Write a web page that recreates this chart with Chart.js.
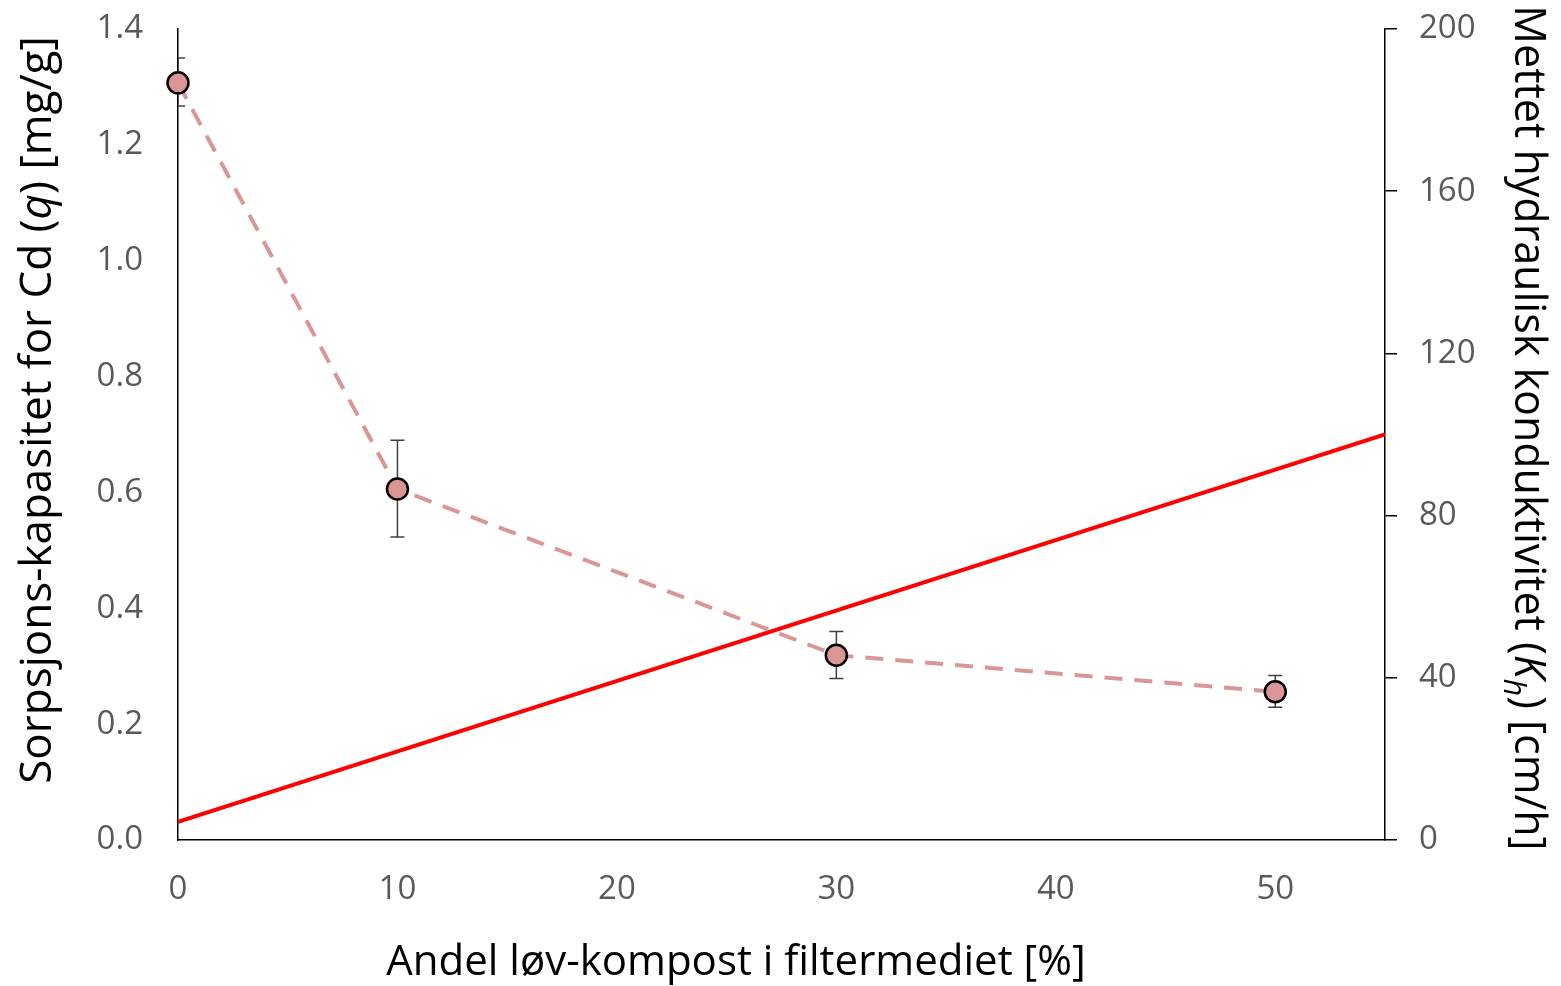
<!DOCTYPE html>
<html>
<head>
<meta charset="utf-8">
<script src="https://cdn.jsdelivr.net/npm/chart.js@4/dist/chart.umd.min.js"></script>
<style>
  body { margin: 0; background: #fff; }
  canvas { display: block; }
</style>
</head>
<body>
<canvas id="chart" width="1561" height="986"></canvas>
<script>
// Data
const andelKompost = [0, 10, 30, 50];
const sorpsjon = [1.307, 0.606, 0.319, 0.256];
const sorpsjonHoy = [1.35, 0.69, 0.36, 0.284];
const sorpsjonLav = [1.267, 0.523, 0.279, 0.229];
const trendX = [0, 55];
const konduktivitet = [4.5, 100];

const FONT = '"Open Sans", "DejaVu Sans", sans-serif';
const GRAY = '#595959';

// Feilstolper tegnes under punktene
const feilstolper = {
    id: 'feilstolper',
    beforeDatasetsDraw(chart) {
        const ctx = chart.ctx;
        const a = chart.chartArea;
        const x = chart.scales.x, y = chart.scales.y;
        ctx.save();
        ctx.beginPath();
        ctx.rect(a.left, a.top, a.right - a.left, a.bottom - a.top);
        ctx.clip();
        ctx.strokeStyle = '#404040';
        ctx.lineWidth = 1.5;
        andelKompost.forEach((v, i) => {
            const px = x.getPixelForValue(v);
            const top = y.getPixelForValue(sorpsjonHoy[i]);
            const bot = y.getPixelForValue(sorpsjonLav[i]);
            ctx.beginPath();
            ctx.moveTo(px, top); ctx.lineTo(px, bot);
            ctx.moveTo(px - 7, top); ctx.lineTo(px + 7, top);
            ctx.moveTo(px - 7, bot); ctx.lineTo(px + 7, bot);
            ctx.stroke();
        });
        ctx.restore();
    }
};

// Aksetitler med kursiv og senket skrift
function tegnTekst(ctx, deler, cx, cy, vinkel, size) {
    ctx.save();
    ctx.translate(cx, cy);
    ctx.rotate(vinkel);
    ctx.textBaseline = 'alphabetic';
    ctx.textAlign = 'left';
    ctx.fillStyle = '#000';
    let total = 0;
    deler.forEach(d => {
        const s = d.sub ? size * 0.7 : size;
        ctx.font = (d.italic ? 'italic ' : '') + s + 'px ' + FONT;
        d.w = ctx.measureText(d.t).width;
        total += d.w;
    });
    let pos = -total / 2;
    deler.forEach(d => {
        const s = d.sub ? size * 0.7 : size;
        ctx.font = (d.italic ? 'italic ' : '') + s + 'px ' + FONT;
        ctx.fillText(d.t, pos, size * 0.35 + (d.sub ? size * 0.25 : 0));
        pos += d.w;
    });
    ctx.restore();
}

const aksetitler = {
    id: 'aksetitler',
    afterDraw(chart) {
        const ctx = chart.ctx;
        tegnTekst(ctx, [{ t: 'Andel løv-kompost i filtermediet [%]' }], 736, 960, 0, 42);
        tegnTekst(ctx, [
            { t: 'Sorpsjons-kapasitet for Cd (' },
            { t: 'q', italic: true },
            { t: ') [mg/g]' }
        ], 36, 410, -Math.PI / 2, 44);
        tegnTekst(ctx, [
            { t: 'Mettet hydraulisk konduktivitet (' },
            { t: 'K', italic: true },
            { t: 'h', italic: true, sub: true },
            { t: ') [cm/h]' }
        ], 1530, 428, Math.PI / 2, 43);
    }
};

function fastBredde(w) {
    return s => { s.width = w; s.paddingTop = 0; s.paddingBottom = 0; };
}

new Chart(document.getElementById('chart'), {
    type: 'line',
    data: {
        datasets: [
            {
                label: 'Sorpsjons-kapasitet',
                data: andelKompost.map((x, i) => ({ x: x, y: sorpsjon[i] })),
                yAxisID: 'y',
                borderColor: '#d99694',
                borderWidth: 4,
                borderDash: [18, 12],
                pointRadius: 10.5,
                pointBackgroundColor: '#d99694',
                pointBorderColor: '#000',
                pointBorderWidth: 2.5,
                tension: 0,
                clip: false
            },
            {
                label: 'Kh',
                data: trendX.map((x, i) => ({ x: x, y: konduktivitet[i] })),
                yAxisID: 'y2',
                borderColor: '#ff0000',
                borderWidth: 4,
                pointRadius: 0,
                tension: 0
            }
        ]
    },
    options: {
        responsive: false,
        animation: false,
        layout: { padding: { top: 29, left: 0, right: 0, bottom: 0 } },
        plugins: {
            legend: { display: false },
            tooltip: { enabled: false }
        },
        scales: {
            x: {
                type: 'linear',
                min: 0,
                max: 55,
                afterFit: s => { s.height = 146; },
                ticks: {
                    stepSize: 10,
                    includeBounds: false,
                    color: GRAY,
                    font: { family: FONT, size: 33 },
                    padding: 22
                },
                grid: { display: false },
                border: { color: '#000', width: 1.5 }
            },
            y: {
                position: 'left',
                min: 0,
                max: 1.4,
                afterFit: fastBredde(178),
                ticks: {
                    stepSize: 0.2,
                    color: GRAY,
                    font: { family: FONT, size: 33 },
                    padding: 27,
                    callback: v => v.toFixed(1)
                },
                grid: { display: false },
                border: { color: '#000', width: 1.5 }
            },
            y2: {
                position: 'right',
                min: 0,
                max: 200,
                afterFit: fastBredde(176),
                ticks: {
                    stepSize: 40,
                    color: GRAY,
                    font: { family: FONT, size: 33 },
                    padding: 22
                },
                grid: {
                    display: true,
                    drawOnChartArea: false,
                    drawTicks: true,
                    tickLength: 12,
                    color: '#000',
                    lineWidth: 1.5
                },
                border: { color: '#000', width: 1.5 }
            }
        }
    },
    plugins: [feilstolper, aksetitler]
});
</script>
</body>
</html>
